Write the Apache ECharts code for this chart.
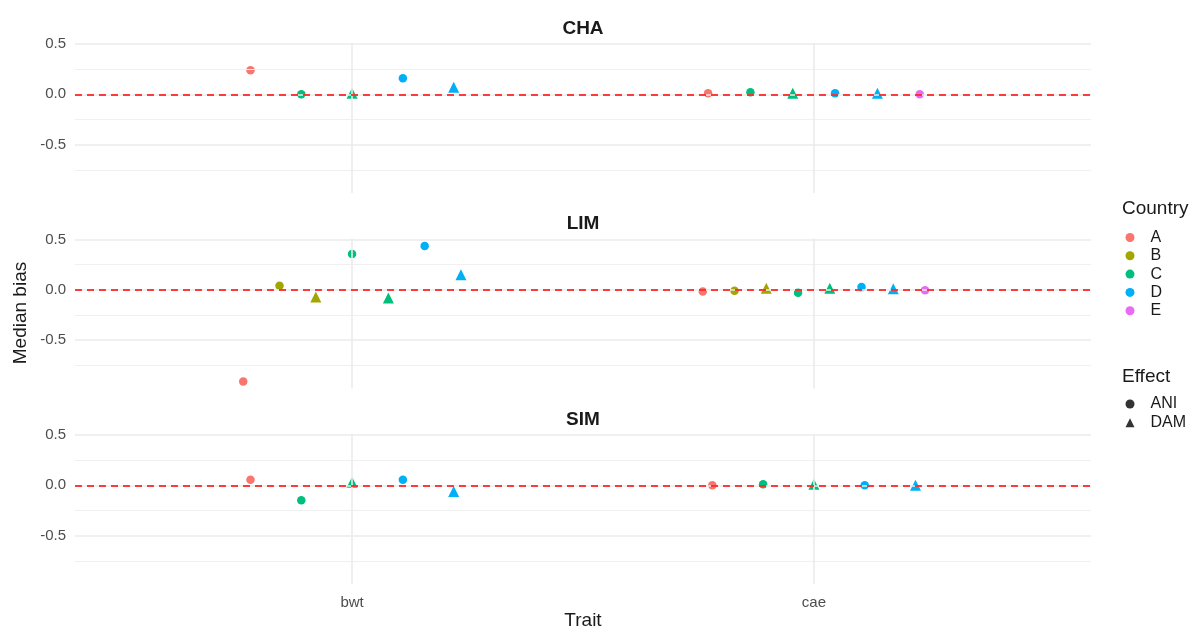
<!DOCTYPE html>
<html>
<head>
<meta charset="utf-8">
<script src="https://cdn.jsdelivr.net/npm/echarts@6/dist/echarts.min.js"></script>
<style>
html,body{margin:0;padding:0;background:#fff;}
#chart{width:1196px;height:632px;}
</style>
</head>
<body>
<div id="chart"></div>
<script>
// ---------- data ----------
const panels = ['CHA', 'LIM', 'SIM'];
const traits = ['bwt', 'cae'];
const countries = ['A', 'B', 'C', 'D', 'E'];
const effects = ['ANI', 'DAM'];
const countryColors = ['#F8766D', '#A3A500', '#00BF7D', '#00B0F6', '#E76BF3'];
const yTicks = [-0.5, 0, 0.5];
const yMinorTicks = [-0.75, -0.25, 0.25];

// [trait, country, effect, median bias]
const chaPoints = [
  ['bwt', 'A', 'ANI', 0.24], ['bwt', 'C', 'ANI', 0.00], ['bwt', 'C', 'DAM', 0.01],
  ['bwt', 'D', 'ANI', 0.16], ['bwt', 'D', 'DAM', 0.07],
  ['cae', 'A', 'ANI', 0.01], ['cae', 'C', 'ANI', 0.02], ['cae', 'C', 'DAM', 0.01],
  ['cae', 'D', 'ANI', 0.01], ['cae', 'D', 'DAM', 0.01], ['cae', 'E', 'ANI', 0.00]
];
const limPoints = [
  ['bwt', 'A', 'ANI', -0.91], ['bwt', 'B', 'ANI', 0.04], ['bwt', 'B', 'DAM', -0.07],
  ['bwt', 'C', 'ANI', 0.355], ['bwt', 'C', 'DAM', -0.08], ['bwt', 'D', 'ANI', 0.435],
  ['bwt', 'D', 'DAM', 0.15],
  ['cae', 'A', 'ANI', -0.017], ['cae', 'B', 'ANI', -0.01], ['cae', 'B', 'DAM', 0.015],
  ['cae', 'C', 'ANI', -0.03], ['cae', 'C', 'DAM', 0.015], ['cae', 'D', 'ANI', 0.027],
  ['cae', 'D', 'DAM', 0.01], ['cae', 'E', 'ANI', -0.005]
];
const simPoints = [
  ['bwt', 'A', 'ANI', 0.056], ['bwt', 'C', 'ANI', -0.147], ['bwt', 'C', 'DAM', 0.03],
  ['bwt', 'D', 'ANI', 0.056], ['bwt', 'D', 'DAM', -0.06],
  ['cae', 'A', 'ANI', 0.00], ['cae', 'C', 'ANI', 0.01], ['cae', 'C', 'DAM', 0.01],
  ['cae', 'D', 'ANI', 0.00], ['cae', 'D', 'DAM', 0.00]
];
const panelPoints = [chaPoints, limPoints, simPoints];

// ---------- layout ----------
const FONT = '"Liberation Sans", Arial, sans-serif';
const gridLeft = 75, gridWidth = 1016, gridHeight = 150;
const gridTops = [43, 238.5, 434];
const dodgeWidth = 0.55;

const grids = [], xAxes = [], yAxes = [], series = [], titles = [];

panels.forEach((panel, p) => {
  grids.push({ left: gridLeft, top: gridTops[p], width: gridWidth, height: gridHeight });
  const isBottom = p === panels.length - 1;
  xAxes.push({
    type: 'value', gridIndex: p, min: 0.4, max: 2.6,
    axisLine: { show: false }, axisTick: { show: false }, splitLine: { show: false },
    axisLabel: {
      show: isBottom, customValues: [1, 2], margin: 11,
      formatter: v => traits[Math.round(v) - 1] || '',
      color: '#4D4D4D', fontSize: 15, fontFamily: FONT
    }
  });
  yAxes.push({
    type: 'value', gridIndex: p, min: -0.98, max: 0.51,
    axisLine: { show: false }, axisTick: { show: false }, splitLine: { show: false },
    axisLabel: {
      customValues: yTicks, margin: 9,
      formatter: v => v.toFixed(1),
      color: '#4D4D4D', fontSize: 15, fontFamily: FONT
    }
  });
  titles.push({
    text: panel, left: gridLeft + gridWidth / 2, textAlign: 'center',
    top: gridTops[p] - 24, padding: 0,
    textStyle: { fontSize: 19, fontWeight: 'bold', color: '#1A1A1A', fontFamily: FONT }
  });

  // background grid lines
  const gl = [];
  yMinorTicks.forEach(v => gl.push({ yAxis: v, lineStyle: { color: '#F0F0F0', width: 1, type: 'solid' } }));
  yTicks.forEach(v => gl.push({ yAxis: v, lineStyle: { color: '#EBEBEB', width: 1.6, type: 'solid' } }));
  [1, 2].forEach(v => gl.push({ xAxis: v, lineStyle: { color: '#EBEBEB', width: 1.6, type: 'solid' } }));
  series.push({
    type: 'scatter', xAxisIndex: p, yAxisIndex: p, data: [], silent: true, z: 0,
    markLine: { silent: true, symbol: 'none', label: { show: false }, animation: false, data: gl }
  });

  // dodge positions
  const pts = panelPoints[p];
  const byCountry = {};
  traits.forEach((t, ti) => {
    const grp = pts.filter(r => r[0] === t)
      .sort((a, b) => countries.indexOf(a[1]) - countries.indexOf(b[1]) || effects.indexOf(a[2]) - effects.indexOf(b[2]));
    const n = grp.length;
    grp.forEach((r, i) => {
      const x = (ti + 1) + (i - (n - 1) / 2) * (dodgeWidth / n);
      (byCountry[r[1]] = byCountry[r[1]] || []).push({
        value: [x, r[3]],
        symbol: r[2] === 'ANI' ? 'circle' : 'triangle',
        symbolSize: r[2] === 'ANI' ? 8.5 : 11
      });
    });
  });
  countries.forEach((c, ci) => {
    series.push({
      type: 'scatter', name: c, xAxisIndex: p, yAxisIndex: p, z: 2,
      symbol: 'circle', symbolSize: 8.5,
      itemStyle: { color: countryColors[ci], opacity: 1 },
      data: byCountry[c] || [], animation: false
    });
  });
  // zero reference line
  series.push({
    type: 'scatter', xAxisIndex: p, yAxisIndex: p, data: [], silent: true, z: 5,
    markLine: {
      silent: true, symbol: 'none', label: { show: false }, animation: false,
      data: [{ yAxis: 0 }],
      lineStyle: { color: '#FF0000', width: 1.6, type: [7, 5] }
    }
  });
});

// shape legend dummies
series.push({ type: 'scatter', name: 'ANI', xAxisIndex: 0, yAxisIndex: 0, data: [], symbol: 'circle', itemStyle: { color: '#000' } });
series.push({ type: 'scatter', name: 'DAM', xAxisIndex: 0, yAxisIndex: 0, data: [], symbol: 'triangle', itemStyle: { color: '#000' } });

titles.push({ text: 'Country', left: 1122, top: 199, padding: 0, textStyle: { fontSize: 19, fontWeight: 'normal', color: '#1A1A1A', fontFamily: FONT } });
titles.push({ text: 'Effect', left: 1122, top: 367, padding: 0, textStyle: { fontSize: 19, fontWeight: 'normal', color: '#1A1A1A', fontFamily: FONT } });

const legendText = { fontSize: 16, lineHeight: 16, color: '#1A1A1A', fontFamily: FONT, padding: [0, 0, 0, 11] };
const chart = echarts.init(document.getElementById('chart'), null, { renderer: 'canvas' });
chart.setOption({
  animation: false,
  backgroundColor: '#FFFFFF',
  title: titles,
  grid: grids,
  xAxis: xAxes,
  yAxis: yAxes,
  series: series,
  legend: [
    {
      orient: 'vertical', left: 1125.5, top: 229.5, padding: 0, itemWidth: 9, itemHeight: 9, itemGap: 2.3,
      data: countries.map(c => ({ name: c, icon: 'circle' })),
      textStyle: legendText, selectedMode: false
    },
    {
      orient: 'vertical', left: 1125.5, top: 396, padding: 0, itemWidth: 9, itemHeight: 9, itemGap: 2.8,
      data: [{ name: 'ANI', icon: 'circle' }, { name: 'DAM', icon: 'triangle' }],
      textStyle: legendText, selectedMode: false
    }
  ],
  graphic: [
    {
      type: 'text', x: 21, y: 313, rotation: Math.PI / 2,
      style: { text: 'Median bias', fontSize: 19, fill: '#1A1A1A', fontFamily: FONT, align: 'center', verticalAlign: 'middle' }
    },
    {
      type: 'text', x: 583, y: 621,
      style: { text: 'Trait', fontSize: 19, fill: '#1A1A1A', fontFamily: FONT, align: 'center', verticalAlign: 'middle' }
    }
  ]
});
</script>
</body>
</html>
